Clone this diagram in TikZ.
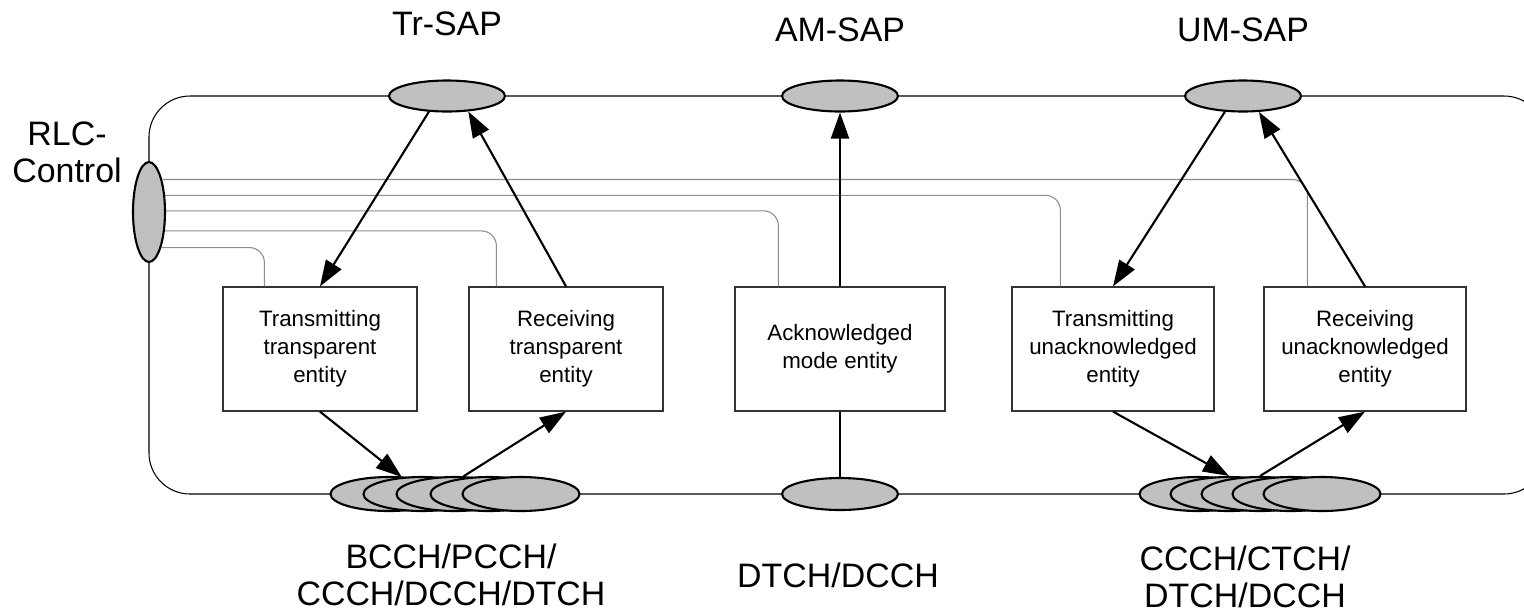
\documentclass[tikz,border=0pt]{standalone}
\usepackage{fontspec}
\setmainfont{Liberation Sans}
\usetikzlibrary{shapes.geometric,arrows.meta}
\definecolor{sapgray}{RGB}{192,192,192}
\definecolor{ctrlgray}{RGB}{140,140,140}

\begin{document}
\begin{tikzpicture}[x=0.02cm,y=-0.02cm,every text node part/.style={align=center}]
		\tikzstyle{sap}=[ellipse,draw,line width=1.2pt,fill=sapgray,
						minimum width=2.32cm,minimum height=0.62cm,inner sep=0pt]
		\tikzstyle{chan}=[sap,minimum width=2.34cm,minimum height=0.68cm]
		\tikzstyle{entity}=[rectangle,draw=black!80,line width=0.7pt,fill=white,
						minimum height=2.48cm,inner sep=0pt,
						font=\fontsize{12.7}{15.9}\selectfont]
		\tikzstyle{biglabel}=[inner sep=0pt,font=\fontsize{19.3}{21.2}\selectfont]
		\tikzstyle{flow}=[-{Triangle[length=0.52cm,width=0.36cm]},line width=1.2pt]
		\tikzstyle{ctrl}=[draw=ctrlgray,line width=0.6pt,rounded corners=0.3cm]

		\useasboundingbox (0,0) rectangle (1524,613);
		\clip (0,0) rectangle (1524,613);

		% RLC frame
		\draw[line width=0.6pt,rounded corners=0.82cm] (149,96) rectangle (1545,494);

		% SAPs
		\node[sap] (trsap) at (447,96) {};
		\node[sap] (amsap) at (840,96) {};
		\node[sap] (umsap) at (1243,96) {};
		\node[biglabel] (trlabel) at (447,24) {Tr-SAP};
		\node[biglabel] (amlabel) at (840,30) {AM-SAP};
		\node[biglabel] (umlabel) at (1243,30) {UM-SAP};

		% RLC control
		\node[sap,minimum width=0.64cm,minimum height=2cm] (rlc) at (149,212) {};
		\node[biglabel] (rlclabel) at (67,152) {RLC-\\Control};

		% entities
		\node[entity,minimum width=3.88cm] (tx1) at (320,349) {Transmitting\\transparent\\entity};
		\node[entity,minimum width=3.88cm] (rx1) at (566,349) {Receiving\\transparent\\entity};
		\node[entity,minimum width=4.2cm] (am) at (840,349) {Acknowledged\\mode entity};
		\node[entity,minimum width=4.04cm] (tx2) at (1113,349) {Transmitting\\unacknowledged\\entity};
		\node[entity,minimum width=4.04cm] (rx2) at (1365,349) {Receiving\\unacknowledged\\entity};

		% logical channels
		\foreach \i/\x in {1/389, 2/422, 3/455, 4/489, 5/521}
			\node[chan] (bcch\i) at (\x,494) {};
		\node[sap,minimum height=0.64cm] (dch) at (840,494) {};
		\foreach \i/\x in {1/1198, 2/1229, 3/1260, 4/1291, 5/1322}
			\node[chan] (ccch\i) at (\x,494) {};
		\node[biglabel] (bcchlabel) at (451,575) {BCCH/PCCH/\\CCCH/DCCH/DTCH};
		\node[biglabel] (dchlabel) at (838,575) {DTCH/DCCH};
		\node[biglabel] (ccchlabel) at (1245,577) {CCCH/CTCH/\\DTCH/DCCH};

		% control lines
		\foreach \ang/\ent/\dx in {-71/tx1/0.84cm, -50/rx1/0.56cm, 4/am/0.88cm,
								 46/tx2/0.98cm, 68/rx2/0.88cm}
			\draw[ctrl] (rlc.\ang) -| ([xshift=\dx]\ent.north west);

		% data flow
		\draw[flow] (trsap.-139) -- (tx1.north);
		\draw[flow] (rx1.north) -- (trsap.-36);
		\draw[flow] (am.north) -- (amsap.south);
		\draw[flow] (umsap.-139) -- (tx2.north);
		\draw[flow] (rx2.north) -- (umsap.-45);

		\draw[flow] (tx1.south) -- (bcch2.140);
		\draw[flow] (bcch3.64) -- (rx1.south);
		\draw[line width=1.2pt] (am.south) -- (dch.north);
		\draw[flow] (tx2.south) -- (ccch2.north);
		\draw[flow] (ccch3.north) -- (rx2.south);

	\end{tikzpicture}
\end{document}
